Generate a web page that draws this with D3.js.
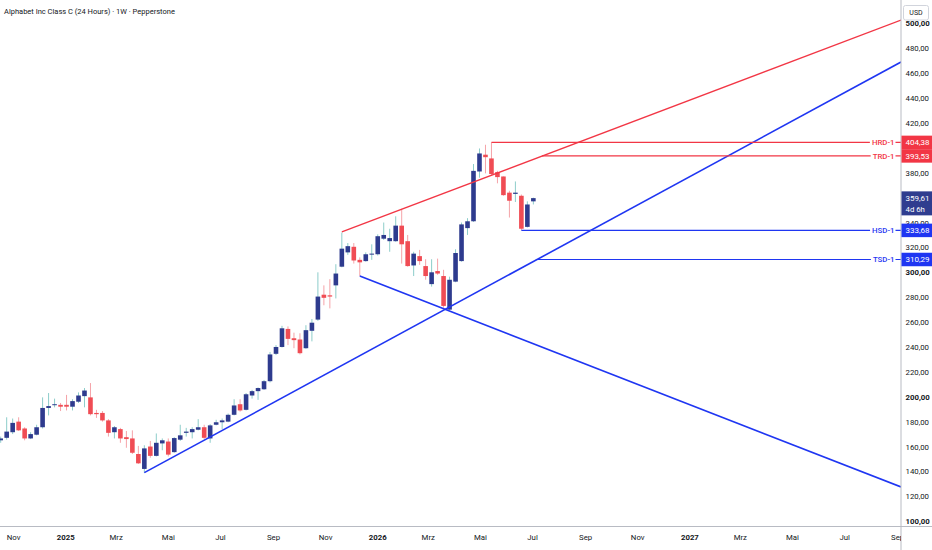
<!DOCTYPE html>
<html>
<head>
<meta charset="utf-8">
<script src="https://cdn.jsdelivr.net/npm/d3@7"></script>
<style>
  html, body { margin: 0; padding: 0; background: #fff; }
  svg { display: block; font-family: Roboto, "Noto Sans", sans-serif; }
</style>
</head>
<body>
<svg id="chart"></svg>
<script>
// ----------------------------------------------------------------------------------------------------------------------
// DATA -----------------------------------------------------------------------------------------------------------------
// ----------------------------------------------------------------------------------------------------------------------

// First weekly bar, one bar per week after that
var firstWeek = "2024-10-14";

var opens  = [165,167,171.5,180,174.5,166.5,169.5,175.5,191,193.5,193.5,193.5,192,196,200.5,199.5,187,187,181,171.5,
              174,167.5,166.5,154,142,160,152.5,162.5,164,155.5,165.5,171,171.5,173.5,175.5,166.5,177.5,179.5,180,185.5,
              194,189.5,201,204.5,206,212.5,234.5,240,254.5,247,246,239,253,262,282,281.5,289.5,304.5,316,320.5,
              310,309,314.5,314.5,327,325,325,337.5,325,305.5,313,305,290.5,301,297,270,292.5,309,335.5,341,
              381,394.5,391.5,380.5,377,364,363,361.5,336.5,357];
var highs  = [168,183.5,182.5,183.5,175.5,171.5,177.5,199.5,203,198.5,195,201.5,198,203.5,207,211,189.5,188.5,182,176.5,
              175,172.5,173,160.5,161,164.5,170.5,166.5,166.5,167.5,177.5,175,175.5,182,177.5,178,181.5,182.5,186.5,198,
              198,203,205.5,207.5,213.5,236,241.5,257,256.5,251.5,251,257.5,262.5,300,289.5,294.5,306.5,332,323.5,323.5,
              312,316,322.5,330.5,340,335,345,351,330,316.5,318,310.5,310.5,311,302,296.5,318.5,340,343.5,387,
              399.5,402.5,404.38,381.5,377,365.5,373,362.5,357,360];
var lows   = [163,165.5,170,172.5,165,166,169,174.5,185,191.5,188.5,189,189,195,191.5,185,183,180,168,166.5,
              163,159,154,146,139,151,152,157,152,155,164.5,168,166.5,173,166,163,177,174,179.5,185,
              188,189,198.5,197.5,205.5,211.5,233.5,239.5,241.5,239,234,238.5,244.5,261,273.5,271,279,304,314,307,
              297,308.5,310,313.5,326,316.5,324.5,307,304.5,297,306,294,288.5,298,271.5,269.5,292,308.5,330,340.5,
              376,379.5,377.5,371.5,361.5,344,356.5,333.68,336,354.5];
var closes = [166.5,172,179,173,166.5,170,175.5,191,192.5,194,192,192,196.5,201,205,186,186,181,171,175.5,
              166.5,166,155,146.5,158.5,152.5,163,165,153.5,166.8,169,172,174,175.5,167,177,179.5,181,185.5,193,
              189,202,204.5,207,212.5,234,240,255,246.5,245.5,235,253.5,259.5,280.5,279.5,280.5,299,319,321,309.5,
              308,314.5,315,329,330,327.5,337.5,322.5,305,315,309,297,300,299,273,294,315.5,338.5,341,381.5,
              395.5,392.5,379,376.5,362,357.5,364,335,354.5,359.61];

// Drawn horizontal levels
var levelNames  = ["HRD-1", "TRD-1", "HSD-1", "TSD-1"];
var levelPrices = [404.38, 393.53, 333.68, 310.29];
var levelFrom   = ["2026-05-11", "2026-07-09", "2026-06-15", "2026-07-02"];
var levelSide   = ["res", "res", "sup", "sup"];

// Drawn trend lines (start point, end point at the price scale)
var trendSide      = ["res", "sup", "sup"];
var trendFromDate  = ["2025-11-17", "2025-03-31", "2025-12-08"];
var trendFromPrice = [332.4, 139, 297];
var trendToDate    = ["2027-09-02", "2027-09-02", "2027-09-02"];
var trendToPrice   = [502.7, 469, 127.5];

// Axis ticks
var priceTicks  = [100,120,140,160,180,200,220,240,260,280,300,320,340,360,380,400,420,440,460,480,500];
var monthTicks  = ["2024-11-01","2025-01-01","2025-03-01","2025-05-01","2025-07-01","2025-09-01",
                   "2025-11-01","2026-01-01","2026-03-01","2026-05-01","2026-07-01","2026-09-01",
                   "2026-11-01","2027-01-01","2027-03-01","2027-05-01","2027-07-01","2027-09-01"];
var monthLabels = ["Nov","2025","Mrz","Mai","Jul","Sep","Nov","2026","Mrz","Mai","Jul","Sep",
                   "Nov","2027","Mrz","Mai","Jul","Sep"];

var lastPrice = 359.61;
var countdown = "4d 6h";
var title = "Alphabet Inc Class C (24 Hours) \u00b7 1W \u00b7 Pepperstone";

// ----------------------------------------------------------------------------------------------------------------------
// SETUP ----------------------------------------------------------------------------------------------------------------
// ----------------------------------------------------------------------------------------------------------------------

var width = 932,
    height = 550,
    plotRight = 901,
    plotBottom = 526.5;

var colors = {
  upBody: "#2e3b8e", upWick: "#8dcdca",
  downBody: "#f04c54", downWick: "#f5a3a8",
  res: "#f23645", sup: "#1f36f2",
  lastBox: "#2f3d8f", text: "#131722", axisLine: "#b8bbc3"
};

var parse = d3.utcParse("%Y-%m-%d");
var de = d3.formatLocale({ decimal: ",", thousands: ".", grouping: [3], currency: ["", "\u20ac"] });
var fmt = de.format(".2f");

var start = parse(firstWeek);
var bars = opens.map(function(o, i) {
  return { date: d3.utcDay.offset(start, i * 7), o: o, h: highs[i], l: lows[i], c: closes[i] };
});

var x = d3.scaleUtc()
  .domain([start, parse("2027-09-02")])
  .range([0.7, plotRight]);

var y = d3.scaleLinear()
  .domain([100, 500])
  .range([521.2, 23.4]);

var svg = d3.select("#chart")
  .attr("width", width)
  .attr("height", height);

svg.append("rect").attr("width", width).attr("height", height).attr("fill", "#fff");

svg.append("clipPath").attr("id", "plot-clip")
  .append("rect").attr("x", 0).attr("y", 0).attr("width", plotRight).attr("height", plotBottom);

var plot = svg.append("g").attr("clip-path", "url(#plot-clip)");

// ----------------------------------------------------------------------------------------------------------------------
// CANDLES --------------------------------------------------------------------------------------------------------------
// ----------------------------------------------------------------------------------------------------------------------

var bodyW = 4.6;

var candle = plot.selectAll(".candle")
  .data(bars)
  .enter().append("g")
  .attr("class", "candle");

candle.append("line")
  .attr("x1", function(d) { return x(d.date); })
  .attr("x2", function(d) { return x(d.date); })
  .attr("y1", function(d) { return y(d.h); })
  .attr("y2", function(d) { return y(d.l); })
  .attr("stroke", function(d) { return d.c >= d.o ? colors.upWick : colors.downWick; })
  .attr("stroke-width", 1);

candle.append("rect")
  .attr("x", function(d) { return x(d.date) - bodyW / 2; })
  .attr("y", function(d) { return y(Math.max(d.o, d.c)); })
  .attr("width", bodyW)
  .attr("height", function(d) { return Math.max(1, Math.abs(y(d.o) - y(d.c))); })
  .attr("fill", function(d) { return d.c >= d.o ? colors.upBody : colors.downBody; });

// ----------------------------------------------------------------------------------------------------------------------
// TREND LINES & LEVELS -------------------------------------------------------------------------------------------------
// ----------------------------------------------------------------------------------------------------------------------

trendSide.forEach(function(side, i) {
  plot.append("line")
    .attr("x1", x(parse(trendFromDate[i])))
    .attr("y1", y(trendFromPrice[i]))
    .attr("x2", x(parse(trendToDate[i])))
    .attr("y2", y(trendToPrice[i]))
    .attr("stroke", colors[side])
    .attr("stroke-width", side == "res" ? 1.3 : 1.6);
});

levelNames.forEach(function(name, i) {
  var yy = y(levelPrices[i]);
  var col = colors[levelSide[i]];

  plot.append("line")
    .attr("x1", x(parse(levelFrom[i])))
    .attr("x2", plotRight)
    .attr("y1", yy)
    .attr("y2", yy)
    .attr("stroke", col)
    .attr("stroke-width", 1.2);

  var t = plot.append("text")
    .attr("x", 894.5)
    .attr("y", yy)
    .attr("dy", "0.35em")
    .attr("text-anchor", "end")
    .attr("font-size", 7.8)
    .attr("font-weight", 500)
    .attr("fill", col)
    .text(name);

  // white gap behind the label
  var bb = t.node().getBBox();
  plot.insert("rect", function() { return t.node(); })
    .attr("x", bb.x - 2)
    .attr("y", bb.y)
    .attr("width", bb.width + 3)
    .attr("height", bb.height)
    .attr("fill", "#fff");
});

// ----------------------------------------------------------------------------------------------------------------------
// AXES -----------------------------------------------------------------------------------------------------------------
// ----------------------------------------------------------------------------------------------------------------------

svg.append("line")
  .attr("x1", 0).attr("x2", width)
  .attr("y1", plotBottom).attr("y2", plotBottom)
  .attr("stroke", colors.axisLine);

svg.append("line")
  .attr("x1", plotRight).attr("x2", plotRight)
  .attr("y1", 0).attr("y2", height)
  .attr("stroke", colors.axisLine);

// Time axis (clipped at the price scale, like the "Se" at the right)
svg.append("clipPath").attr("id", "time-clip")
  .append("rect").attr("x", 0).attr("y", plotBottom).attr("width", plotRight).attr("height", height - plotBottom);

var xAxis = svg.append("g")
  .attr("clip-path", "url(#time-clip)")
  .append("g")
  .attr("transform", "translate(-3," + plotBottom + ")")
  .call(d3.axisBottom(x)
    .tickValues(monthTicks.map(parse))
    .tickSize(0)
    .tickPadding(8)
    .tickFormat(function(d, i) { return monthLabels[i]; }));

xAxis.select(".domain").remove();
xAxis.selectAll("text")
  .attr("font-family", "Roboto, sans-serif")
  .attr("font-size", 7.8)
  .attr("fill", colors.text)
  .attr("font-weight", function(d, i) { return /^\d/.test(monthLabels[i]) ? 700 : 400; });

// Price axis: labels right under the price boxes are hidden, as on the reference
var boxH = 13.5;
var boxCenters = levelPrices.map(function(p) { return y(p); });
var lastTop = y(lastPrice) - boxH / 2, lastBottom = lastTop + boxH + 10.5;

var yAxis = svg.append("g")
  .attr("transform", "translate(" + plotRight + ",0)")
  .call(d3.axisRight(y)
    .tickValues(priceTicks.filter(function(p) {
      var yy = y(p);
      var underLevel = boxCenters.some(function(c) { return Math.abs(c - yy) < 7; });
      var underLast = yy > lastTop - 4 && yy < lastBottom;
      return !underLevel && !underLast;
    }))
    .tickSize(0)
    .tickPadding(4.5)
    .tickFormat(fmt));

yAxis.select(".domain").remove();
yAxis.selectAll("text")
  .attr("font-family", "Roboto, sans-serif")
  .attr("font-size", 7.8)
  .attr("fill", colors.text)
  .attr("font-weight", function(d) { return d % 100 == 0 ? 700 : 400; });

// ----------------------------------------------------------------------------------------------------------------------
// PRICE LABELS ---------------------------------------------------------------------------------------------------------
// ----------------------------------------------------------------------------------------------------------------------

levelNames.forEach(function(name, i) {
  var yy = y(levelPrices[i]);
  svg.append("rect")
    .attr("x", plotRight + 0.5)
    .attr("y", yy - boxH / 2)
    .attr("width", width - plotRight)
    .attr("height", boxH)
    .attr("fill", colors[levelSide[i]]);
  svg.append("text")
    .attr("x", plotRight + 4.5)
    .attr("y", yy)
    .attr("dy", "0.35em")
    .attr("font-size", 8)
    .attr("fill", "#fff")
    .text(fmt(levelPrices[i]));
});

// Last price with countdown
var yl = y(lastPrice);
svg.append("rect")
  .attr("x", plotRight + 0.5)
  .attr("y", lastTop)
  .attr("width", width - plotRight)
  .attr("height", lastBottom - lastTop)
  .attr("fill", colors.lastBox);
svg.append("text")
  .attr("x", plotRight + 4.5).attr("y", yl).attr("dy", "0.35em")
  .attr("font-size", 8).attr("fill", "#fff")
  .text(fmt(lastPrice));
svg.append("text")
  .attr("x", plotRight + 4.5).attr("y", yl + 11).attr("dy", "0.35em")
  .attr("font-size", 7.8).attr("fill", "#fff")
  .text(countdown);

// Currency box (covers the top of the 500 label, as on the reference)
svg.append("rect")
  .attr("x", 903.5).attr("y", 5.5).attr("width", 25).attr("height", 14.5).attr("rx", 2)
  .attr("fill", "#fff").attr("stroke", "#d1d4dc");
svg.append("text")
  .attr("x", 916).attr("y", 12.7).attr("dy", "0.35em")
  .attr("text-anchor", "middle").attr("font-size", 7).attr("fill", colors.text)
  .text("USD");

// Title
svg.append("text")
  .attr("x", 4)
  .attr("y", 11)
  .attr("dy", "0.35em")
  .attr("font-size", 7.5)
  .attr("fill", colors.text)
  .text(title);
</script>
</body>
</html>
